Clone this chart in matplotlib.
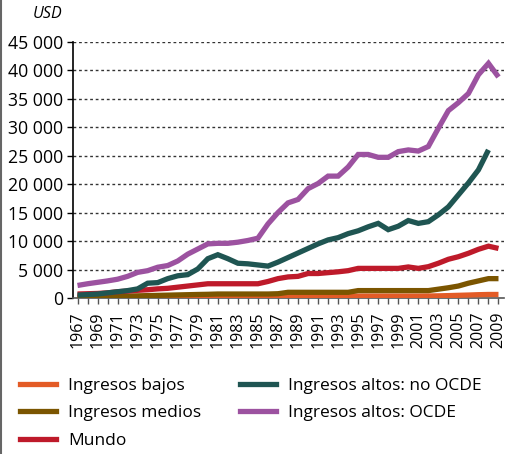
import matplotlib
matplotlib.use("Agg")
import matplotlib.pyplot as plt
from matplotlib.lines import Line2D
import numpy as np

years = list(range(1967, 2010))

ingresos_bajos = [100, 110, 120, 130, 140, 150, 170, 190, 200, 210, 220, 240, 270, 300,
                  320, 320, 310, 300, 300, 310, 320, 330, 330, 330, 330, 330, 330, 330,
                  340, 340, 340, 340, 340, 340, 340, 350, 380, 420, 470, 520, 580, 620, 620]
ingresos_medios = [200, 220, 240, 260, 300, 340, 380, 420, 460, 500, 540, 580, 620, 650,
                   700, 700, 700, 700, 700, 700, 750, 1000, 1000, 1000, 1000, 1000, 1000, 1000,
                   1300, 1300, 1300, 1300, 1300, 1300, 1300, 1300, 1550, 1800, 2100, 2600, 3000, 3400, 3400]
mundo = [700, 750, 800, 900, 1100, 1200, 1350, 1450, 1600, 1700, 1900, 2100, 2300, 2500,
         2500, 2500, 2500, 2500, 2500, 2900, 3400, 3700, 3800, 4300, 4300, 4450, 4600, 4800,
         5200, 5200, 5200, 5200, 5200, 5450, 5200, 5500, 6100, 6800, 7250, 7850, 8550, 9100, 8700]
altos_no_ocde = [500, 600, 700, 900, 1100, 1300, 1600, 2600, 2700, 3400, 3900, 4100, 5100, 6900,
                 7600, 6900, 6100, 6000, 5800, 5600, 6300, 7100, 7900, 8700, 9500, 10200, 10600, 11300,
                 11800, 12500, 13100, 12000, 12600, 13600, 13100, 13400, 14600, 16000, 18100, 20200,
                 22500, 26000, np.nan]
altos_ocde = [2200, 2500, 2750, 3000, 3300, 3800, 4500, 4800, 5400, 5700, 6500, 7700, 8600, 9500,
              9600, 9600, 9800, 10100, 10500, 13000, 15000, 16700, 17300, 19200, 20100, 21400, 21400,
              23000, 25200, 25200, 24700, 24700, 25700, 26000, 25800, 26600, 29800, 32900, 34300,
              35900, 39200, 41200, 38800]

series_labels = ["Ingresos bajos", "Ingresos medios", "Mundo",
                 "Ingresos altos: no OCDE", "Ingresos altos: OCDE"]
colors = ["#E35B26", "#7B5500", "#BE1A2A", "#1F5552", "#9C52A0"]
yticks = list(range(0, 45001, 5000))
ytick_labels = ["0" if v == 0 else f"{v//1000} 000" for v in yticks]

plt.rcParams['font.family'] = ['Open Sans', 'DejaVu Sans']

fig = plt.figure(figsize=(5.05, 4.54), dpi=100)
ax = fig.add_axes([73/505, 1 - 298/454, (504-73)/505, (298-41.7)/454])

data = [ingresos_bajos, ingresos_medios, mundo, altos_no_ocde, altos_ocde]
for vals, c in zip(data, colors):
    ax.plot(years, vals, color=c, lw=3.8, solid_capstyle='butt', solid_joinstyle='miter', zorder=3)

ax.set_ylim(0, 45000)
ax.set_xlim(1966.55, 2009.55)
ax.set_yticks(yticks)
ax.set_yticklabels(ytick_labels, fontsize=12.7)
ax.set_xticks(years)
ax.set_xticklabels([str(y) if (y - 1967) % 2 == 0 else "" for y in years],
                   rotation=90, fontsize=11.5)
ax.tick_params(axis='y', length=4.3, width=1, color='black', pad=3)
ax.tick_params(axis='x', length=4, width=1, color='#555555', pad=6)

for v in yticks[1:]:
    ax.axhline(v, color='#333333', lw=1, linestyle=(0, (2, 2)), zorder=1)

for s in ['top', 'right']:
    ax.spines[s].set_visible(False)
ax.spines['left'].set_linewidth(1.2)
ax.spines['bottom'].set_color('#555555')
ax.spines['bottom'].set_linewidth(1.2)

fig.text(62/505, 1 - 14/454, "USD", style='italic', fontsize=11.5, ha='right', va='center')

handles = [Line2D([0], [0], color=c, lw=3.8) for c in colors]
leg = fig.legend(handles, series_labels, ncol=2, loc='upper left',
                 bbox_to_anchor=(4/505, 1 - 362/454), frameon=False,
                 fontsize=12.5, handlelength=2.1, handletextpad=0.7,
                 columnspacing=2.2, labelspacing=0.65)

fig.add_artist(Line2D([0.5/505, 0.5/505], [0, 1], color='#666666', lw=1.5,
                      transform=fig.transFigure))

fig.savefig("out.png", dpi=100)
